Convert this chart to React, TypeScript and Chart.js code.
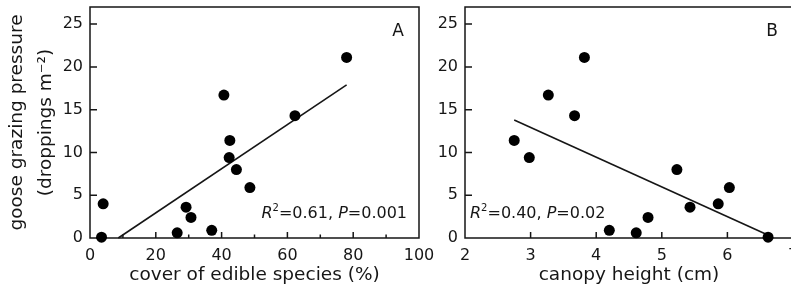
import React, { useEffect, useRef } from 'react';
import { Chart, registerables } from 'chart.js';

Chart.register(...registerables);

// ---- data ----
const grazingPressure = [0.1, 4.0, 0.6, 3.6, 2.4, 0.9, 16.7, 11.4, 9.4, 8.0, 5.9, 14.3, 21.1];
const edibleCover = [3.5, 4.0, 26.5, 29.2, 30.7, 37.0, 40.7, 42.5, 42.3, 44.5, 48.6, 62.3, 78.0];
const canopyHeight = [6.62, 5.86, 4.61, 5.43, 4.79, 4.2, 3.27, 2.75, 2.98, 5.23, 6.03, 3.67, 3.82];

const fitCoverX = [8.6, 78.0];
const fitCoverY = [0.0, 17.9];
const fitHeightX = [2.75, 6.6];
const fitHeightY = [13.8, 0.4];

const yTickValues = [0, 5, 10, 15, 20, 25];
const coverTickValues = [0, 20, 40, 60, 80, 100];
const coverMinorValues = [10, 30, 50, 70, 90];
const heightTickValues = [2, 3, 4, 5, 6, 7];

const panelLetters = ['A', 'B'];
const statsR2 = ['0.61', '0.40'];
const statsP = ['0.001', '0.02'];
const yTitleLines = ['goose grazing pressure', '(droppings m⁻²)'];
const xTitles = ['cover of edible species (%)', 'canopy height (cm)'];

const INK = '#161616';
const FAMILY = "'DejaVu Sans', sans-serif";

Chart.defaults.font.family = FAMILY;
Chart.defaults.color = INK;

const panelPlugin = {
  id: 'panelDecor',
  beforeDatasetsDraw(chart: any, _args: any, opts: any) {
    const { ctx, chartArea } = chart;
    const { left, right, top, bottom } = chartArea;
    const xs = chart.scales.x;
    const ys = chart.scales.y;
    ctx.save();
    ctx.strokeStyle = INK;
    ctx.lineWidth = 1.5;
    ctx.beginPath();
    ctx.rect(left, top, right - left, bottom - top);
    ys.ticks.forEach((t: any) => {
      const py = ys.getPixelForValue(t.value);
      ctx.moveTo(left, py);
      ctx.lineTo(left + 7, py);
    });
    xs.ticks.forEach((t: any) => {
      const px = xs.getPixelForValue(t.value);
      ctx.moveTo(px, bottom);
      ctx.lineTo(px, bottom - 6);
    });
    (opts.minor || []).forEach((v: number) => {
      const px = xs.getPixelForValue(v);
      ctx.moveTo(px, bottom);
      ctx.lineTo(px, bottom - 3.5);
    });
    ctx.stroke();

    ctx.fillStyle = INK;
    ctx.font = `17px ${FAMILY}`;
    ctx.textAlign = 'center';
    ctx.textBaseline = 'middle';
    ctx.fillText(opts.letter, right - 21, top + 25);

    const parts = [
      { t: 'R', f: `italic 16px ${FAMILY}`, dy: 0 },
      { t: '2', f: `10px ${FAMILY}`, dy: -7 },
      { t: `=${opts.r2}, `, f: `16px ${FAMILY}`, dy: 0 },
      { t: 'P', f: `italic 16px ${FAMILY}`, dy: 0 },
      { t: `=${opts.p}`, f: `16px ${FAMILY}`, dy: 0 },
    ];
    let total = 0;
    const widths = parts.map((p) => {
      ctx.font = p.f;
      const w = ctx.measureText(p.t).width;
      total += w;
      return w;
    });
    let x = opts.statsAlign === 'right' ? right - 12 - total : left + 5;
    const baseY = bottom - 20.5;
    ctx.textAlign = 'left';
    ctx.textBaseline = 'alphabetic';
    parts.forEach((p, i) => {
      ctx.font = p.f;
      ctx.fillText(p.t, x, baseY + p.dy);
      x += widths[i];
    });
    ctx.restore();
  },
};

function buildConfig(panel: number): any {
  const isA = panel === 0;
  const xData = isA ? edibleCover : canopyHeight;
  const fitX = isA ? fitCoverX : fitHeightX;
  const fitY = isA ? fitCoverY : fitHeightY;
  const xTicks = isA ? coverTickValues : heightTickValues;
  return {
    type: 'scatter',
    data: {
      datasets: [
        {
          data: xData.map((x, i) => ({ x, y: grazingPressure[i] })),
          pointRadius: 5.5,
          pointHoverRadius: 5.5,
          backgroundColor: '#000',
          borderColor: '#000',
          borderWidth: 0,
          clip: false,
        },
        {
          data: fitX.map((x, i) => ({ x, y: fitY[i] })),
          showLine: true,
          borderColor: INK,
          borderWidth: 1.6,
          pointRadius: 0,
          pointHoverRadius: 0,
          fill: false,
          clip: false,
        },
      ],
    },
    options: {
      animation: false,
      responsive: false,
      events: [],
      layout: { padding: { left: 0, right: isA ? 21 : 17, top: 7, bottom: 0 } },
      plugins: {
        legend: { display: false },
        tooltip: { enabled: false },
        panelDecor: {
          letter: panelLetters[panel],
          r2: statsR2[panel],
          p: statsP[panel],
          statsAlign: isA ? 'right' : 'left',
          minor: isA ? coverMinorValues : [],
        },
      },
      scales: {
        x: {
          type: 'linear',
          min: isA ? 0 : 2,
          max: isA ? 100 : 7,
          afterBuildTicks: (s: any) => {
            s.ticks = xTicks.map((value) => ({ value }));
          },
          afterFit: (s: any) => {
            s.height = 52;
            s.paddingLeft = 0;
            s.paddingRight = 0;
          },
          ticks: { font: { size: 16 }, color: INK, padding: 8, maxRotation: 0, autoSkip: false },
          grid: { display: false, drawTicks: false },
          border: { display: false },
          title: {
            display: true,
            text: xTitles[panel],
            font: { size: 18.5 },
            color: INK,
            padding: { top: 0, bottom: 4 },
          },
        },
        y: {
          type: 'linear',
          min: 0,
          max: 27,
          afterBuildTicks: (s: any) => {
            s.ticks = yTickValues.map((value) => ({ value }));
          },
          afterFit: (s: any) => {
            s.width = isA ? 90 : 65;
            s.paddingTop = 0;
            s.paddingBottom = 0;
          },
          ticks: { font: { size: 16 }, color: INK, padding: 7 },
          grid: { display: false, drawTicks: false },
          border: { display: false },
          title: isA
            ? {
                display: true,
                text: yTitleLines,
                font: { size: 18.5, lineHeight: 1.57 },
                color: INK,
                padding: { top: 3, bottom: 0 },
              }
            : { display: false },
        },
      },
    },
    plugins: [panelPlugin],
  };
}

function PanelCanvas({ panel, left, width }: { panel: number; left: number; width: number }) {
  const ref = useRef<HTMLCanvasElement>(null);
  useEffect(() => {
    const chart = new Chart(ref.current as HTMLCanvasElement, buildConfig(panel));
    return () => chart.destroy();
  }, [panel]);
  return (
    <canvas
      ref={ref}
      width={width}
      height={290}
      style={{ position: 'absolute', left, top: 0, width, height: 290, display: 'block' }}
    />
  );
}

export default function App() {
  return (
    <div
      style={{
        position: 'fixed',
        left: 0,
        top: 0,
        width: 791,
        height: 290,
        overflow: 'hidden',
        background: '#fff',
      }}
    >
      <PanelCanvas panel={0} left={0} width={440} />
      <PanelCanvas panel={1} left={400} width={410} />
    </div>
  );
}
